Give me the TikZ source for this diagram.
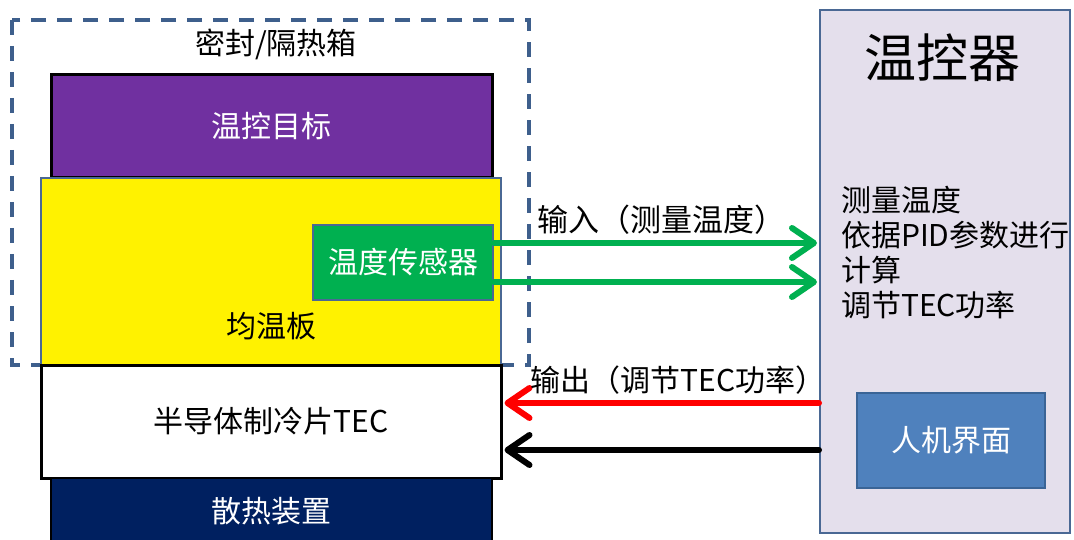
\documentclass[tikz,border=0pt]{standalone}
\usepackage{fontspec}
\setmainfont{Noto Sans CJK SC}
\usetikzlibrary{arrows.meta}
\definecolor{slate}{HTML}{4A6894}
\definecolor{purp}{HTML}{7030A0}
\definecolor{grn}{HTML}{00B050}
\definecolor{navy}{HTML}{002060}
\definecolor{lav}{HTML}{E4DFEC}
\definecolor{hmi}{HTML}{4F81BD}
\definecolor{hmiedge}{HTML}{3A6496}
\definecolor{dashc}{HTML}{3E5F8C}
\tikzset{
  blk/.style={draw, rectangle, inner sep=0pt, align=center},
  lbl/.style={inner sep=0pt, font=\fontsize{30}{34}\selectfont},
  arr/.style={line width=6pt, line cap=round, -{Straight Barb[length=22pt,width=30pt,line cap=round,line join=round]}},
}
\begin{document}
\begin{tikzpicture}[x=1pt,y=-1pt]
\useasboundingbox (0,0) rectangle (1074,540);
% dashed enclosure
\draw[dashc, line width=3.5pt, dash pattern=on 15pt off 11pt] (12,20) rectangle (529,365);
\node[lbl] (boxlbl) at (276,44) {密封/隔热箱};
% stack
\node[blk, fill=purp, line width=3pt, minimum width=441pt, minimum height=103pt, text=white, font=\fontsize{30}{34}\selectfont] (target) at (271.5,126.5) {温控目标};
\node[blk, draw=slate, fill=yellow, line width=1.5pt, minimum width=460pt, minimum height=187pt] (plate) at (271,271.5) {};
\node[lbl] (platelbl) at (271,326) {均温板};
\node[blk, fill=white, line width=3pt, minimum width=460pt, minimum height=113pt, font=\fontsize{30}{34}\selectfont] (tec) at (271,421.5) {半导体制冷片TEC};
\node[blk, fill=navy, line width=2pt, minimum width=441pt, minimum height=70pt] (sink) at (271.5,513) {};
\node[lbl, text=white] (sinklbl) at (271.5,511) {散热装置};
\node[blk, draw=slate, fill=grn, line width=2pt, minimum width=180pt, minimum height=75pt, text=white, font=\fontsize{30}{34}\selectfont] (sensor) at (403,262.5) {温度传感器};
% controller
\node[blk, draw=slate, fill=lav, line width=2pt, minimum width=250pt, minimum height=523pt] (ctrl) at (945,271.5) {};
\node[inner sep=0pt, font=\fontsize{52}{58}\selectfont] (ctrltitle) at (942,58) {温控器};
\node[inner sep=0pt, anchor=north west, align=left, font=\fontsize{30}{35}\selectfont] (ctrltext) at (841,186) {测量温度\\依据PID参数进行\\计算\\调节TEC功率};
\node[blk, draw=hmiedge, fill=hmi, line width=2pt, minimum width=188pt, minimum height=95pt, text=white, font=\fontsize{30}{34}\selectfont] (hmi) at (951,440.5) {人机界面};
% connectors
\coordinate (g1) at (0,243);
\coordinate (g2) at (0,282);
\coordinate (r1) at (0,403);
\coordinate (k1) at (0,450);
\draw[arr, grn] (sensor.east |- g1) -- ([xshift=-2pt]ctrl.west |- g1);
\draw[arr, grn] (sensor.east |- g2) -- ([xshift=-2pt]ctrl.west |- g2);
\draw[arr, red] (ctrl.west |- r1) -- ([xshift=2pt]tec.east |- r1);
\draw[arr, black] (ctrl.west |- k1) -- ([xshift=2pt]tec.east |- k1);
\node[lbl, font=\fontsize{31}{34}\selectfont] (inlbl) at (661,220) {输入（测量温度）};
\node[lbl] (outlbl) at (678,380) {输出（调节TEC功率）};
\end{tikzpicture}
\end{document}
